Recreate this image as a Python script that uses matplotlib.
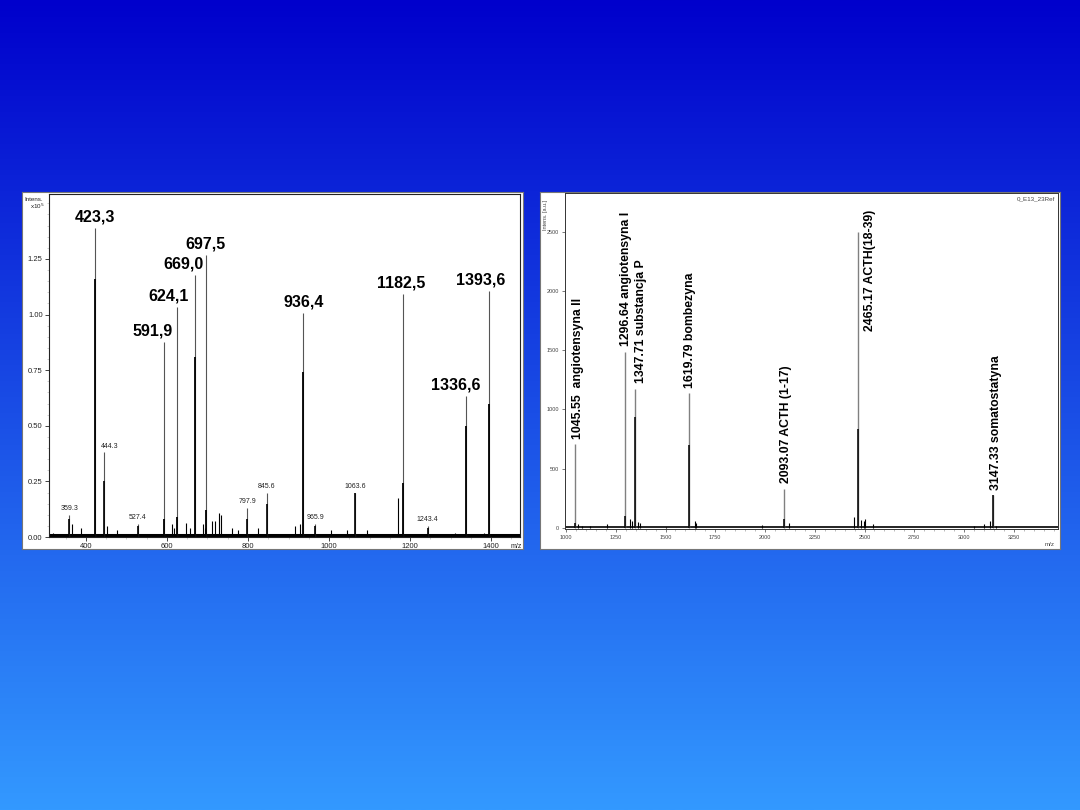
import numpy as np
import matplotlib
matplotlib.use("Agg")
import matplotlib.pyplot as plt
from matplotlib.ticker import MultipleLocator

plt.rcParams['font.family'] = ['Liberation Sans', 'DejaVu Sans']

# ---------------- data: left spectrum (intensity x10^5) ----------------
left_main_mz = [423.3, 591.9, 624.1, 669.0, 697.5, 936.4, 1182.5, 1336.6, 1393.6]
left_main_full = [1.39, 0.877, 1.034, 1.178, 1.268, 1.007, 1.093, 0.634, 1.106]
left_main_core = [1.16, 0.08, 0.09, 0.81, 0.12, 0.74, 0.245, 0.50, 0.60]
left_main_labels = ["423,3", "591,9", "624,1", "669,0", "697,5", "936,4", "1182,5", "1336,6", "1393,6"]

left_small_mz = [359.3, 444.3, 527.4, 797.9, 845.6, 965.9, 1063.6, 1243.4]
left_small_full = [0.10, 0.38, 0.06, 0.13, 0.20, 0.06, 0.20, 0.05]
left_small_core = [0.08, 0.25, 0.05, 0.08, 0.15, 0.05, 0.20, 0.04]
left_small_labels = ["359.3", "444.3", "527.4", "797.9", "845.6", "965.9", "1063.6", "1243.4"]

left_minor_mz = [319, 366, 389, 452.6, 475.7, 611.5, 618, 647, 657, 688, 694, 710, 718.5,
                 729, 733, 760, 776, 824, 916, 928, 1005, 1045, 1093, 1169.6, 1311, 1381]
left_minor_h = [0.02, 0.06, 0.04, 0.05, 0.03, 0.06, 0.04, 0.065, 0.04, 0.06, 0.04, 0.07, 0.07,
                0.11, 0.10, 0.04, 0.03, 0.04, 0.05, 0.06, 0.03, 0.03, 0.03, 0.175, 0.02, 0.02]

left_xticks = [400, 600, 800, 1000, 1200, 1400]
left_yticks = [0.00, 0.25, 0.50, 0.75, 1.00, 1.25]

# ---------------- data: right spectrum (a.u.) ----------------
right_mz = [1045.55, 1296.64, 1347.71, 1619.79, 2093.07, 2465.17, 3147.33]
right_full = [708, 1484, 1172, 1138, 330, 2496, 278]
right_core = [40, 100, 936, 700, 75, 835, 278]
right_labels = ["1045.55  angiotensyna II", "1296.64 angiotensyna I", "1347.71 substancja P",
                "1619.79 bombezyna", "2093.07 ACTH (1-17)", "2465.17 ACTH(18-39)",
                "3147.33 somatostatyna"]

right_minor_mz = [1060, 1080, 1120, 1207, 1322, 1330, 1360, 1370, 1500, 1647, 1655, 1985,
                  2118, 2446, 2482, 2495, 2502, 2542, 3050, 3100, 3130, 3160]
right_minor_h = [30, 20, 15, 30, 80, 60, 50, 40, 10, 60, 40, 25,
                 40, 90, 70, 60, 80, 30, 20, 30, 60, 20]

right_xticks = [1000, 1250, 1500, 1750, 2000, 2250, 2500, 2750, 3000, 3250]
right_yticks = [0, 500, 1000, 1500, 2000, 2500]

# ---------------- figure ----------------
W, H = 1080, 810
fig = plt.figure(figsize=(W / 100, H / 100), dpi=100)


def rect(x0, y0, x1, y1):
    return [x0 / W, 1 - y1 / H, (x1 - x0) / W, (y1 - y0) / H]


# gradient background
bg = fig.add_axes([0, 0, 1, 1], zorder=-10)
top = np.array([0, 0, 204]) / 255
bot = np.array([51, 153, 255]) / 255
t = np.linspace(0, 1, 512)[:, None, None]
grad = top * (1 - t) + bot * t
bg.imshow(grad, aspect='auto', extent=[0, 1, 0, 1])
bg.axis('off')

# panels
for r in [rect(22, 192, 523, 549), rect(540, 192, 1060, 549)]:
    p = fig.add_axes(r, zorder=-5)
    p.set_facecolor('white')
    p.set_xticks([]); p.set_yticks([])
    for s in p.spines.values():
        s.set_color('#777777'); s.set_linewidth(0.8)

# ---------------- left plot ----------------
axl = fig.add_axes(rect(49, 194, 520, 537))
axl.set_xlim(309, 1471)
axl.set_ylim(0, 1.542)
axl.hlines(0.01, 309, 1471, color='black', lw=2.2)
axl.vlines(left_minor_mz, 0, left_minor_h, color='black', lw=0.8)
axl.vlines(left_main_mz, 0, left_main_full, color='#555555', lw=0.8)
axl.vlines(left_main_mz, 0, left_main_core, color='black', lw=1.3)
axl.vlines(left_small_mz, 0, left_small_full, color='#555555', lw=0.8)
axl.vlines(left_small_mz, 0, left_small_core, color='black', lw=1.2)

main_dx = {"423,3": 0, "591,9": -8, "624,1": -6, "669,0": -8, "697,5": -1, "936,4": 0,
           "1182,5": -1, "1336,6": -7, "1393,6": -6}
for mz, h, lab in zip(left_main_mz, left_main_full, left_main_labels):
    axl.annotate(lab, (mz, h), xytext=(main_dx[lab], 2.5), textcoords='offset points',
                 ha='center', va='bottom', fontsize=11.5, fontweight='bold', color='black')
small_dx = {"444.3": 4}
for mz, h, lab in zip(left_small_mz, left_small_full, left_small_labels):
    axl.annotate(lab, (mz, h), xytext=(small_dx.get(lab, 0), 2), textcoords='offset points',
                 ha='center', va='bottom', fontsize=5, color='#222222')

axl.set_xticks(left_xticks)
axl.set_yticks(left_yticks)
axl.set_yticklabels([f"{v:.2f}" for v in left_yticks])
axl.yaxis.set_minor_locator(MultipleLocator(0.05))
axl.xaxis.set_minor_locator(MultipleLocator(50))
axl.tick_params(axis='both', which='major', labelsize=5.5, length=3, width=0.6, colors='#222222', pad=1.5)
axl.tick_params(axis='both', which='minor', length=1.5, width=0.4, colors='#aaaaaa')
for s in axl.spines.values():
    s.set_linewidth(0.8); s.set_color('#222222')
fig.text(24 / W, 1 - 201 / H, "Intens.", fontsize=4.5, color='#222222')
fig.text(30 / W, 1 - 209 / H, "x10$^5$", fontsize=4.5, color='#222222')
fig.text(511 / W, 1 - 548 / H, "m/z", fontsize=5, color='#222222')

# ---------------- right plot ----------------
axr = fig.add_axes(rect(565, 193, 1058, 529))
axr.set_xlim(995, 3472)
axr.set_ylim(-8, 2825)
axr.hlines(8, 995, 3472, color='black', lw=1.2)
axr.vlines(right_minor_mz, 0, right_minor_h, color='black', lw=0.8)
axr.vlines(right_mz, 0, right_full, color='#808080', lw=1.0)
axr.vlines(right_mz, 0, right_core, color='black', lw=1.1)

label_dx = {"1296.64": 1.0, "1347.71": 4.0, "1619.79": 0.5}
for mz, h, lab in zip(right_mz, right_full, right_labels):
    key = lab.split()[0]
    if key == "2465.17":
        axr.annotate(lab, (mz, 1660), xytext=(9, 0), textcoords='offset points',
                     ha='center', va='bottom', rotation=90, fontsize=8.8, fontweight='bold')
    else:
        axr.annotate(lab, (mz, h), xytext=(label_dx.get(key, 2), 4), textcoords='offset points',
                     ha='center', va='bottom', rotation=90, fontsize=8.8, fontweight='bold')

axr.set_xticks(right_xticks)
axr.set_yticks(right_yticks)
axr.xaxis.set_minor_locator(MultipleLocator(50))
axr.tick_params(axis='both', which='major', labelsize=4, length=2.5, width=0.5, colors='#444444', pad=2)
axr.tick_params(axis='both', which='minor', length=1.5, width=0.4, colors='#888888')
for s in axr.spines.values():
    s.set_linewidth(0.7); s.set_color('#333333')
axr.text(0.995, 0.99, "0_E13_23Ref", transform=axr.transAxes, ha='right', va='top',
         fontsize=4.5, color='#444444')
fig.text(545 / W, 1 - 215 / H, "Intens. [a.u.]", rotation=90, fontsize=4, color='#444444',
         ha='center', va='center')
fig.text(1050 / W, 1 - 545 / H, "m/z", fontsize=4.5, color='#444444', ha='center', va='center')

fig.savefig("out.png", dpi=100)
